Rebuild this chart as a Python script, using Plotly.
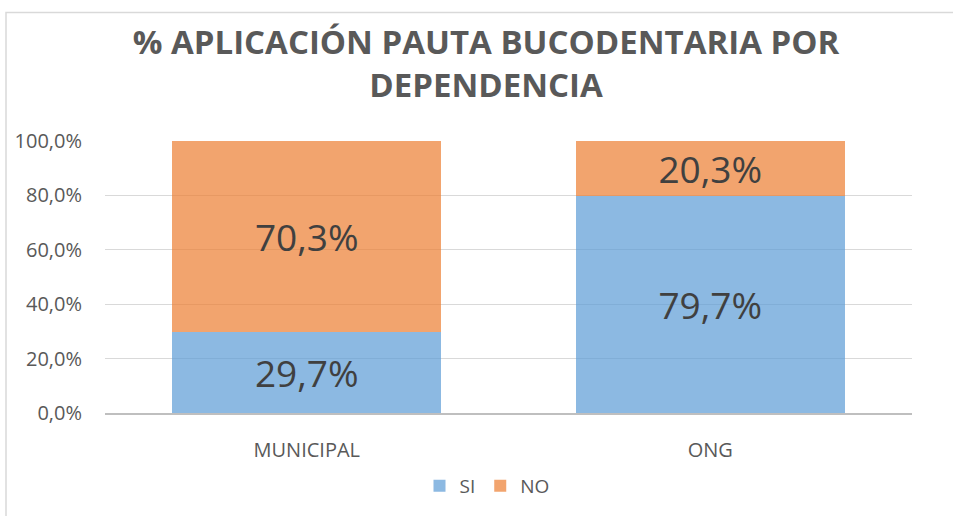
import plotly.graph_objects as go

categories = ["MUNICIPAL", "ONG"]
si_values = [29.7, 79.7]
no_values = [70.3, 20.3]
y_ticks = [0, 20, 40, 60, 80, 100]
y_tick_labels = [f"{v:.1f}%".replace(".", ",") for v in y_ticks]

W, H = 953, 516
L, R, T, B = 105, 41, 141, 102
pw, ph = W - L - R, H - T - B

def px_x(p):
    return (p - L) / pw

def px_y(p):
    return (H - B - p) / ph

label_font = dict(family="Open Sans", size=37, color="#404040")

fig = go.Figure()
fig.add_trace(go.Bar(
    x=categories, y=si_values, name="SI",
    marker=dict(color="rgba(91,155,213,0.7)", line=dict(width=0)),
    texttemplate="%{y:.1f}%", textposition="inside", insidetextanchor="middle",
    textfont=label_font, constraintext="none",
))
fig.add_trace(go.Bar(
    x=categories, y=no_values, name="NO",
    marker=dict(color="rgba(237,125,49,0.7)", line=dict(width=0)),
    texttemplate="%{y:.1f}%", textposition="inside", insidetextanchor="middle",
    textfont=label_font, constraintext="none",
))

fig.add_shape(type="rect", xref="paper", yref="paper",
              x0=px_x(6), x1=px_x(970), y0=px_y(12), y1=px_y(530),
              line=dict(color="#D9D9D9", width=1.5), fillcolor="rgba(0,0,0,0)", layer="below")

fig.update_layout(
    width=W, height=H,
    margin=dict(l=L, r=R, t=T, b=B),
    paper_bgcolor="white", plot_bgcolor="white",
    barmode="stack", bargap=0.333,
    separators=",.",
    font=dict(family="Open Sans", color="#595959"),
    title=dict(
        text="<b>% APLICACIÓN PAUTA BUCODENTARIA POR<br>DEPENDENCIA</b>",
        x=486 / W, xref="container", xanchor="center",
        y=1 - 54 / H, yref="container", yanchor="middle",
        font=dict(family="Open Sans", size=33, color="#595959"),
    ),
    xaxis=dict(
        showgrid=False, showline=True, linecolor="#BFBFBF", linewidth=1.5,
        ticks="outside", ticklen=18, tickcolor="rgba(0,0,0,0)",
        tickfont=dict(family="Open Sans", size=20, color="#595959"),
    ),
    yaxis=dict(
        range=[0, 100], tickvals=y_ticks, ticktext=y_tick_labels,
        showgrid=True, gridcolor="#D9D9D9", gridwidth=1.2,
        zeroline=False, showline=False,
        ticks="outside", ticklen=18, tickcolor="rgba(0,0,0,0)",
        tickfont=dict(family="Open Sans", size=20, color="#595959"),
    ),
    legend=dict(
        orientation="h", x=px_x(487), xanchor="center",
        y=px_y(486), yanchor="middle",
        font=dict(family="Open Sans", size=19, color="#595959"),
        itemwidth=30, traceorder="normal",
    ),
    showlegend=True,
)

fig.write_html("out.html", config={"displayModeBar": False},
               post_script="document.body.style.margin='0';document.body.style.overflow='hidden';")
